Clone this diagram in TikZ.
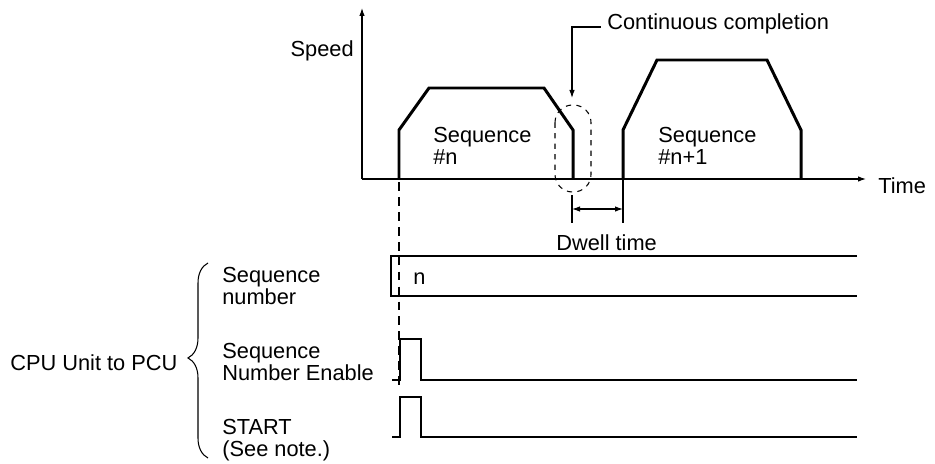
\documentclass[tikz,border=0pt]{standalone}
\usepackage{fontspec}
\setmainfont{Liberation Sans}
\usetikzlibrary{positioning,arrows.meta,decorations.pathreplacing}

\begin{document}
\begin{tikzpicture}[x=0.2mm,y=-0.2mm,
    every node/.style={font=\fontsize{12.4}{12.4}\selectfont,inner sep=0pt}]
      \tikzstyle{lbl} =[anchor=base west,align=left];
      \tikzstyle{thin}=[line width=0.6pt];
      \tikzstyle{prof}=[line width=1.7pt,line join=miter];
      \tikzstyle{sig} =[line width=1.1pt];
      \tikzstyle{tip} =[-{Latex[length=1.6mm,width=1.1mm]}];
      \useasboundingbox (0,0) rectangle (935,464);
      % axes
      \coordinate (org)  at (362,179);
      \coordinate (ytop) at (362,8);
      \coordinate (xend) at (866,179);
      \draw[thin,tip] (org) -- (ytop);
      \draw[thin,tip] (org) -- (xend);
      \node[anchor=base east] (speed) at (354,57) {Speed};
      \node[anchor=base west] (time) at (878,193) {Time};
      % speed profiles
      \draw[prof] (399,179) -- (399,130) -- (429,88) -- (544,88) -- (573,130) -- (573,179);
      \draw[prof] (623,179) -- (623,130) -- (657,60) -- (767,60) -- (801,130) -- (801,179);
      \node[lbl] (seqa) at (433,164) {Sequence\\\#n};
      \node[lbl] (seqb) at (658,164) {Sequence\\\#n+1};
      % continuous completion
      \draw[thin,dashed,rounded corners=3.5mm] (555,105) rectangle (591,192);
      \node[anchor=base west] (cc) at (607,30) {Continuous completion};
      \coordinate (ccend) at (572,98);
      \draw[thin,tip] ([xshift=-1.3mm,yshift=0.6mm]cc.base west) -| (ccend);
      % dwell time
      \coordinate (da) at (572,209);
      \coordinate (db) at (623,209);
      \draw[thin] (572,195) -- (572,223);
      \draw[thin] (623,179) -- (623,223);
      \draw[thin,{Latex[length=1.6mm,width=1.1mm]}-{Latex[length=1.6mm,width=1.1mm]}] (da) -- (db);
      \node[anchor=base west] (dwell) at (556,250) {Dwell time};
      % signals
      \draw[thin] (857,256) -- (391,256) -- (391,296) -- (857,296);
      \node[anchor=base west] (num) at (413,284) {n};
      \draw[sig] (392,380) -- (400,380) -- (400,339) -- (421,339) -- (421,380) -- (857,380);
      \draw[sig] (392,437) -- (400,437) -- (400,397) -- (421,397) -- (421,437) -- (857,437);
      \draw[line width=1pt,dash pattern=on 5pt off 3.5pt] (399,182) -- (399,387);
      \node[lbl] (sn)  at (222,304) {Sequence\\number};
      \node[lbl] (sne) at (222,380) {Sequence\\Number Enable};
      \node[lbl] (st)  at (222,456) {START\\(See note.)};
      % brace
      \draw[thin,decorate,decoration={brace,amplitude=4mm,aspect=0.513}] (208,458) -- (208,263);
      \node[anchor=base west] (cpu) at (10,370) {CPU Unit to PCU};
\end{tikzpicture}
\end{document}
